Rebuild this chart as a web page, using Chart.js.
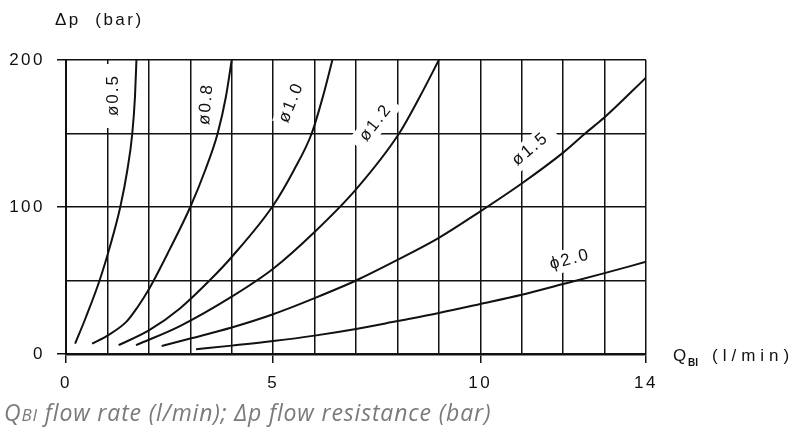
<!DOCTYPE html>
<html>
<head>
<meta charset="utf-8">
<script src="https://cdn.jsdelivr.net/npm/chart.js@4.4.1/dist/chart.umd.min.js"></script>
<style>
  html, body { margin: 0; padding: 0; background: #fff; }
  #wrap { width: 795px; height: 430px; }
</style>
</head>
<body>
<div id="wrap"><canvas id="c" width="795" height="430"></canvas></div>
<script>
// Flow rate Q (l/min) against pressure drop Δp (bar), one curve per orifice diameter
const diameters = ['ø0.5', 'ø0.8', 'ø1.0', 'ø1.2', 'ø1.5', 'ϕ2.0'];

const q05 = [0.22, 0.48, 0.81, 1.08, 1.31, 1.48, 1.60, 1.665, 1.70];
const p05 = [7, 25, 50, 75, 100, 125, 150, 175, 200];

const q08 = [0.63, 1.00, 1.46, 1.73, 2.00, 2.50, 3.00, 3.36, 3.66, 3.86, 4.00];
const p08 = [7, 12.5, 22, 32, 44, 71, 100, 125, 150, 175, 200];

const q10 = [1.27, 2.00, 2.75, 3.50, 4.00, 5.00, 5.50, 5.93, 6.20, 6.43];
const p10 = [6, 16, 31, 51, 66, 101, 125, 150, 175, 200];

const q12 = [1.69, 2.75, 4.00, 5.00, 6.00, 7.00, 8.04, 8.54, 9.00];
const p12 = [6, 19, 39, 58, 83, 112, 150, 175, 200];

const q15 = [2.31, 3, 4, 5, 6, 7, 8, 9, 10, 11, 12, 12.53, 13, 14];
const p15 = [5.5, 10.5, 18, 27, 38, 50, 64, 79, 97, 116, 137, 150, 161, 188];

const q20 = [3.14, 4, 5, 6, 7, 8, 9, 10, 11, 12, 13, 14];
const p20 = [3.2, 5.7, 8.8, 12.5, 17, 22.4, 27.9, 34, 40.3, 47.6, 55, 62.7];

const flowSeries = [q05, q08, q10, q12, q15, q20];
const pressureSeries = [p05, p08, p10, p12, p15, p20];

const xTickLabels = [0, 5, 10, 14];
const yTickLabels = [0, 100, 200];

// Where each diameter tag sits along its curve (data units), its slant and
// how far its white backing reaches past the lettering
const tagPlacement = [
  { q: 1.15, p: 175.5, angle: -90, pad: 11 },
  { q: 3.38, p: 169.4, angle: -85, pad: 3 },
  { q: 5.43, p: 170.5, angle: -68, pad: 2 },
  { q: 7.46, p: 156.8, angle: -52, pad: 8 },
  { q: 11.19, p: 138.9, angle: -40, pad: 10 },
  { q: 12.14, p: 64.1, angle: -15, pad: 8 }
];

const INK = '#111';
const FONT = "'Liberation Sans', Arial, sans-serif";

const datasets = diameters.map((name, i) => ({
  label: name,
  data: flowSeries[i].map((q, j) => ({ x: q, y: pressureSeries[i][j] })),
  borderColor: INK,
  borderWidth: 2,
  pointRadius: 0,
  fill: false,
  cubicInterpolationMode: 'monotone'
}));

// Wide letter spacing of the drafting lettering; reapplied after every canvas reset
const spacingPlugin = {
  id: 'spacing',
  beforeLayout(chart) { chart.ctx.letterSpacing = '2.5px'; },
  beforeDraw(chart) { chart.ctx.letterSpacing = '2.5px'; }
};

// Diameter tags with a white backing that interrupts the grid
const tagPlugin = {
  id: 'tags',
  beforeDatasetsDraw(chart) {
    const { ctx, scales } = chart;
    ctx.save();
    ctx.font = '17px ' + FONT;
    ctx.letterSpacing = '2px';
    ctx.textAlign = 'center';
    ctx.textBaseline = 'middle';
    diameters.forEach((name, i) => {
      const t = tagPlacement[i];
      const px = scales.x.getPixelForValue(t.q);
      const py = scales.y.getPixelForValue(t.p);
      const w = ctx.measureText(name).width;
      ctx.save();
      ctx.translate(px, py);
      ctx.rotate(t.angle * Math.PI / 180);
      ctx.fillStyle = '#fff';
      ctx.fillRect(-w / 2 - t.pad, -11, w + 2 * t.pad, 22);
      ctx.fillStyle = INK;
      ctx.fillText(name, 1, 0);
      ctx.restore();
    });
    ctx.restore();
  }
};

// Axis captions and the figure note underneath
const captionPlugin = {
  id: 'captions',
  afterDraw(chart) {
    const ctx = chart.ctx;
    ctx.save();
    ctx.fillStyle = INK;
    ctx.textAlign = 'left';
    ctx.textBaseline = 'alphabetic';

    ctx.font = '17px ' + FONT;
    ctx.letterSpacing = '2.5px';
    ctx.fillText('Δp  (bar)', 55, 25);

    ctx.letterSpacing = '0px';
    ctx.font = '17px ' + FONT;
    ctx.fillText('Q', 673, 361);
    ctx.font = 'bold 10px ' + FONT;
    ctx.fillText('BI', 688, 366);
    ctx.font = '17px ' + FONT;
    ctx.letterSpacing = '5px';
    ctx.fillText('(l/min)', 712, 361);

    ctx.fillStyle = '#7a7a7a';
    ctx.letterSpacing = '0.85px';
    let x = 4;
    ctx.font = "italic 23px 'Open Sans', sans-serif";
    ctx.fillText('Q', x, 421);
    x += ctx.measureText('Q').width;
    ctx.font = "italic 17px 'Open Sans', sans-serif";
    ctx.fillText('BI', x, 421);
    x += ctx.measureText('BI').width;
    ctx.font = "italic 23px 'Open Sans', sans-serif";
    ctx.fillText(' flow rate (l/min); Δp flow resistance (bar)', x, 421);
    ctx.restore();
  }
};

new Chart(document.getElementById('c'), {
  type: 'line',
  data: { datasets },
  plugins: [spacingPlugin, tagPlugin, captionPlugin],
  options: {
    responsive: false,
    animation: false,
    devicePixelRatio: 1,
    layout: { padding: { left: 0, top: 60, right: 149, bottom: 36 } },
    plugins: { legend: { display: false }, tooltip: { enabled: false } },
    scales: {
      x: {
        type: 'linear',
        min: 0,
        max: 14,
        afterFit(scale) { scale.height = 40; },
        border: { display: true, color: INK, width: 2.5 },
        grid: {
          color: INK,
          lineWidth: 1.5,
          tickLength: 9,
          tickWidth: 1.5,
          tickColor: (c) => (c.tick && xTickLabels.includes(c.tick.value)) ? INK : 'rgba(0,0,0,0)'
        },
        ticks: {
          stepSize: 1,
          autoSkip: false,
          maxRotation: 0,
          padding: 10,
          color: INK,
          font: { family: FONT, size: 17 },
          callback: (v) => xTickLabels.includes(v) ? String(v) : ''
        }
      },
      y: {
        min: 0,
        max: 200,
        afterFit(scale) { scale.width = 66; },
        border: { display: true, color: INK, width: 2 },
        grid: {
          color: INK,
          lineWidth: 1.5,
          tickLength: 9,
          tickWidth: 1.5,
          tickColor: (c) => (c.tick && yTickLabels.includes(c.tick.value)) ? INK : 'rgba(0,0,0,0)'
        },
        ticks: {
          stepSize: 50,
          autoSkip: false,
          padding: 12,
          color: INK,
          font: { family: FONT, size: 17 },
          callback: (v) => yTickLabels.includes(v) ? String(v) : ''
        }
      }
    }
  }
});
</script>
</body>
</html>
